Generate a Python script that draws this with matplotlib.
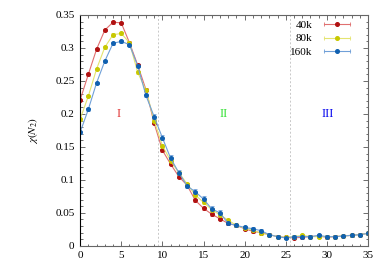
import numpy as np
import matplotlib
matplotlib.use("Agg")
import matplotlib.pyplot as plt
from matplotlib.ticker import MultipleLocator, FuncFormatter
from matplotlib.lines import Line2D
from matplotlib.legend_handler import HandlerLine2D, HandlerTuple

# N2 values
n2 = list(range(36))

chi_40k = [0.221, 0.260, 0.298, 0.327, 0.339, 0.338, 0.308, 0.274, 0.237, 0.186,
           0.145, 0.124, 0.105, 0.092, 0.069, 0.057, 0.048, 0.041, 0.034, 0.031,
           0.026, 0.022, 0.020, 0.017, 0.014, 0.013, 0.012, 0.013, 0.014, 0.015,
           0.013, 0.014, 0.015, 0.016, 0.017, 0.019]
chi_80k = [0.192, 0.227, 0.268, 0.301, 0.320, 0.322, 0.308, 0.263, 0.236, 0.190,
           0.152, 0.129, 0.111, 0.094, 0.077, 0.066, 0.055, 0.047, 0.039, 0.031,
           0.027, 0.024, 0.019, 0.017, 0.014, 0.013, 0.014, 0.016, 0.014, 0.014,
           0.014, 0.014, 0.015, 0.016, 0.017, 0.019]
chi_160k = [0.172, 0.207, 0.247, 0.280, 0.307, 0.310, 0.305, 0.273, 0.228, 0.196,
            0.164, 0.133, 0.111, 0.091, 0.082, 0.071, 0.056, 0.050, 0.034, 0.031,
            0.028, 0.026, 0.023, 0.017, 0.014, 0.012, 0.014, 0.014, 0.014, 0.016,
            0.014, 0.014, 0.015, 0.016, 0.017, 0.019]

err_40k = [0.002] * 36
err_80k = [0.002] * 36
err_160k = [0.002] * 9 + [0.004] * 9 + [0.002] * 18

labels = ["40k", "80k", "160k"]
region_names = ["I", "II", "III"]
region_x = [4.7, 17.4, 30.1]
region_y = [0.2, 0.2, 0.2]
boundaries = [9.45, 25.5]

plt.rcParams['font.family'] = ['Liberation Serif', 'DejaVu Serif']
plt.rcParams['mathtext.fontset'] = 'stix'

fig = plt.figure(figsize=(3.87, 2.72), dpi=100)
ax = fig.add_axes([0.207, 0.096, 0.744, 0.849])

series = [
    (chi_40k, err_40k, "#b01010", "#e07070"),
    (chi_80k, err_80k, "#c8c800", "#e4e470"),
    (chi_160k, err_160k, "#1060b0", "#70a0d8"),
]
handles = []
hmap = {}
for (vals, errs, mc, lc), lab in zip(series, labels):
    ax.errorbar(n2, vals, yerr=errs, color=lc, lw=0.8, elinewidth=0.6,
                capsize=1.3, capthick=0.6, marker='o', ms=2.6,
                mfc=mc, mec=mc)
    # gnuplot-like legend sample: horizontal bar with end caps and a dot
    bar = Line2D([], [], color=lc, lw=0.8, marker='|', ms=3.5, mew=0.6)
    dot = Line2D([], [], ls='none', marker='o', ms=2.6, mfc=mc, mec=mc)
    hmap[bar] = HandlerLine2D(numpoints=2)
    hmap[dot] = HandlerLine2D(numpoints=1)
    handles.append((bar, dot))
    hmap[handles[-1]] = HandlerTuple(ndivide=1)

for b in boundaries:
    ax.axvline(b, color="#c8c8c8", lw=0.7, ls=(0, (2, 2)), zorder=0)

region_colors = ["#e03030", "#30e030", "#0000ee"]
for name, xx, yy, c in zip(region_names, region_x, region_y, region_colors):
    ax.text(xx, yy, name, color=c, fontsize=9, ha='center', va='center')

ax.set_xlim(0, 35)
ax.set_ylim(0, 0.35)
ax.xaxis.set_major_locator(MultipleLocator(5))
ax.xaxis.set_minor_locator(MultipleLocator(1))
ax.yaxis.set_major_locator(MultipleLocator(0.05))
ax.yaxis.set_minor_locator(MultipleLocator(0.01))
ax.yaxis.set_major_formatter(FuncFormatter(lambda v, p: "%g" % round(v, 3)))
ax.tick_params(which='both', direction='in', top=True, right=True,
               labelsize=8, width=0.6, color="#555555")
ax.tick_params(which='major', length=3.5, pad=4)
ax.tick_params(which='minor', length=1.8)
for s in ax.spines.values():
    s.set_color("#666666")
    s.set_linewidth(0.8)
ax.spines['left'].set_color("black")

ax.set_ylabel(r"$\chi(N_2)$", fontsize=8, labelpad=11)

leg = ax.legend(handles, labels, loc='upper right', bbox_to_anchor=(0.965, 0.995),
                frameon=False, fontsize=8, markerfirst=False, handlelength=3.0,
                labelspacing=0.3, borderaxespad=0.0, handletextpad=0.7,
                handler_map=hmap)

fig.savefig("out.png", dpi=100)
